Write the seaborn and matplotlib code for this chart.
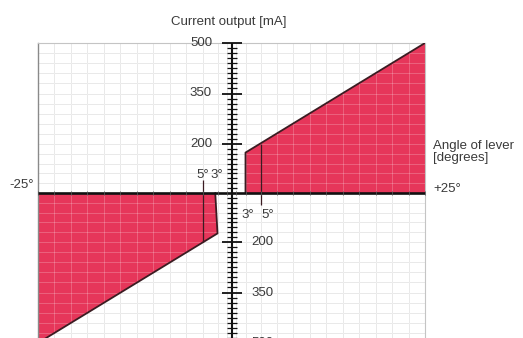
import numpy as np
import matplotlib
matplotlib.use("Agg")
import matplotlib.pyplot as plt
import seaborn as sns

# lever angle [degrees] vs current output [mA] (schematic, scale squeezed near zero)
pos_angle = [3, 3, 25, 25]
pos_current = [0, 165, 500, 0]
neg_angle = [-3.3, -3, -25, -25]
neg_current = [0, -165, -500, 0]

# the 5 degree marker lines
marker_angle = [-5, 5]
marker_top = [55, 200]
marker_bottom = [-200, -50]

# labels near zero
deg_labels = ["5°", "3°", "3°", "5°"]
deg_label_x = [-5, -3.1, 3.3, 5.9]
deg_label_y = [75, 75, -90, -90]

y_major = [200, 350, 500]
y_minor = [20, 40, 60, 80, 100, 120, 140, 160, 180,
           215, 230, 245, 260, 275, 290, 305, 320, 335,
           365, 380, 395, 410, 425, 440, 455, 470, 485]
grid_x = np.arange(-25, 26, 2)
grid_y = [0, 40, 80, 120, 160, 200, 230, 260, 290, 320, 350, 380, 410, 440, 470, 500]

# piecewise scales (the original drawing is not linear near zero)
X_KNOTS = [0, 3, 5, 25, 1000]
X_PIX = [0, 14, 29, 193.5, 193.5 + 975 * 8.225]
Y_KNOTS = [0, 200, 500, 100000]
Y_PIX = [0, 49, 150, 150 + 99500 * 0.335]


def fx(d):
    d = np.asarray(d, dtype=float)
    return np.sign(d) * np.interp(np.abs(d), X_KNOTS, X_PIX)


def fx_inv(p):
    p = np.asarray(p, dtype=float)
    return np.sign(p) * np.interp(np.abs(p), X_PIX, X_KNOTS)


def fy(v):
    v = np.asarray(v, dtype=float)
    return np.sign(v) * np.interp(np.abs(v), Y_KNOTS, Y_PIX)


def fy_inv(p):
    p = np.asarray(p, dtype=float)
    return np.sign(p) * np.interp(np.abs(p), Y_PIX, Y_KNOTS)


sns.set_style("white")
plt.rcParams["font.family"] = ["Liberation Sans", "DejaVu Sans"]
txt = "#3a3a3a"
red = "#e6365a"
edge = "#3b1c22"

fig = plt.figure(figsize=(5.23, 3.38), dpi=100)
ax = fig.add_axes([38 / 523, -5 / 338, 387 / 523, 300 / 338])
ax.set_xscale("function", functions=(fx, fx_inv))
ax.set_yscale("function", functions=(fy, fy_inv))

all_grid_y = [-g for g in grid_y[1:]] + grid_y

# chart paper grid: faint grey on white, lighter lines on the red
ax.vlines(grid_x, -500, 500, color="#e4e4e4", lw=0.7, zorder=0.5)
ax.hlines(all_grid_y, -25, 25, color="#e4e4e4", lw=0.7, zorder=0.5)

# red regions
ax.fill(pos_angle, pos_current, color=red, lw=0, zorder=1)
ax.fill(neg_angle, neg_current, color=red, lw=0, zorder=1)

ax.vlines(grid_x, -500, 500, color="white", lw=0.7, alpha=0.22, zorder=2)
ax.hlines(all_grid_y, -25, 25, color="white", lw=0.7, alpha=0.22, zorder=2)

# outlines
sns.lineplot(x=pos_angle[:3], y=pos_current[:3], sort=False, estimator=None,
             color=edge, lw=1.3, ax=ax, zorder=4)
sns.lineplot(x=neg_angle[:3], y=neg_current[:3], sort=False, estimator=None,
             color=edge, lw=1.3, ax=ax, zorder=4)
ax.vlines(marker_angle, marker_bottom, marker_top, color=edge, lw=0.9, zorder=4)

# axes through the origin
ax.axhline(0, color="#111111", lw=1.9, zorder=5)
ax.axvline(0, color="#111111", lw=1.5, zorder=5)
ax.plot(grid_x, np.zeros(len(grid_x)), ls="none", marker="|", ms=3,
        mew=0.6, color="#555555", zorder=5)
majors = y_major + [-v for v in y_major]
minors = y_minor + [-v for v in y_minor]
ax.plot(np.zeros(len(majors)), majors, ls="none", marker="_", ms=14.5,
        mew=1.3, color="#111111", zorder=6, clip_on=False)
ax.plot(np.zeros(len(minors)), minors, ls="none", marker="_", ms=6.5,
        mew=0.9, color="#111111", zorder=6)

# tick labels: above zero on the left, below zero on the right
for v in y_major:
    ax.annotate(str(v), (0, v), xytext=(-14, 0), textcoords="offset points",
                ha="right", va="center", fontsize=9.5, color=txt)
    ax.annotate(str(v), (0, -v), xytext=(14.5, 0), textcoords="offset points",
                ha="left", va="center", fontsize=9.5, color=txt,
                annotation_clip=False)

for s, x, y in zip(deg_labels, deg_label_x, deg_label_y):
    ax.text(x, y, s, ha="center", va="center", fontsize=9.5, color=txt, zorder=7)

ax.annotate("-25°", (-25, 0), xytext=(-3, 6), textcoords="offset points",
            ha="right", va="center", fontsize=9.5, color=txt, annotation_clip=False)
ax.annotate("+25°", (25, 0), xytext=(6, 3), textcoords="offset points",
            ha="left", va="center", fontsize=9.5, color=txt, annotation_clip=False)
ax.annotate("Angle of lever\n[degrees]", (25, 0), xytext=(6, 29.5),
            textcoords="offset points", ha="left", va="center", fontsize=9.5,
            color=txt, linespacing=1.0, annotation_clip=False)
fig.text(229 / 523, 1 - 22 / 338, "Current output [mA]", ha="center",
         va="center", fontsize=9.5, color=txt)

ax.set_xlim(-25, 25)
ax.set_ylim(-500, 500)
ax.set_xticks([])
ax.set_yticks([])
ax.set_xlabel("")
ax.set_ylabel("")
for side in ["top", "right", "bottom"]:
    ax.spines[side].set_color("#c4c4c4")
    ax.spines[side].set_linewidth(0.8)
ax.spines["left"].set_color("#8a8a8a")
ax.spines["left"].set_linewidth(1.0)

fig.savefig("out.png", dpi=100)
